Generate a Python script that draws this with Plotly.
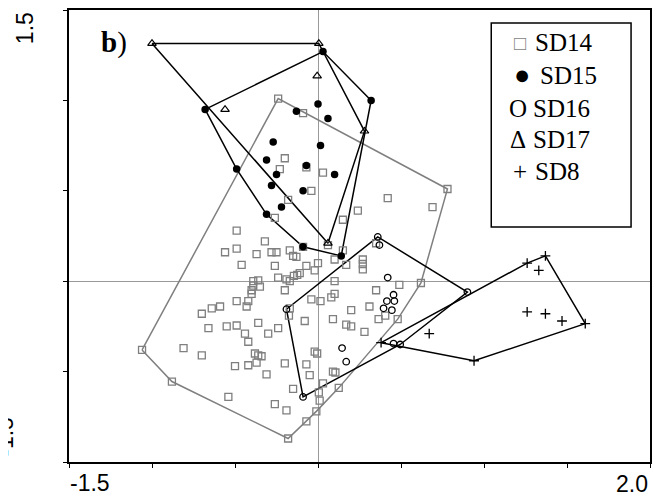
import plotly.graph_objects as go

# ---------------- data ----------------
sd14_x = [-0.24, -0.09, -0.20, -0.23, -0.07, 0.03, -0.04, -0.18, -0.26, 0.15,
          0.24, 0.42, 0.69, 0.78, -0.49, -0.56, -0.49, -0.32, -0.37, -0.28,
          -0.25, -0.17, -0.15, -0.13, -0.09, 0.06, 0.15, 0.27, 0.27, 0.27,
          0.35, -0.46, -0.26, -0.07, 0.00, -0.02, 0.10, 0.17, -0.11, -0.125,
          -0.145, -0.24, -0.19, -0.17, -0.39, -0.36, -0.39, -0.35, -0.40, -0.40,
          -0.20, 0.10, 0.49, 0.62, 0.35, -0.04, -0.49, -0.42, -0.43, -0.59,
          -0.64, -0.70, 0.015, 0.08, 0.10, 0.20, 0.31, -0.17, -0.175, -0.08,
          0.09, 0.17, 0.20, 0.28, 0.365, 0.405, 0.48, -0.66, -0.55, -0.49,
          -0.36, -0.44, -0.30, -0.24, -0.42, -0.81, -1.06, -0.70, -0.38, -0.36,
          -0.34, -0.37, -0.50, -0.42, -0.31, -0.20, -0.07, -0.05, -0.02, -0.005,
          0.09, 0.105, 0.03, 0.125, -0.15, -0.54, -0.88, -0.26, -0.19, 0.005,
          0.01, -0.01, -0.07, -0.18]
sd14_y = [1.01, 0.93, 0.68, 0.62, 0.63, 0.60, 0.50, 0.45, 0.35, 0.34,
          0.39, 0.46, 0.41, 0.51, 0.28, 0.16, 0.18, 0.22, 0.15, 0.16,
          0.16, 0.17, 0.14, 0.135, 0.19, 0.20, 0.17, 0.12, 0.095, 0.065,
          0.21, 0.09, 0.085, 0.085, 0.10, 0.06, 0.12, 0.09, 0.045, 0.035,
          0.03, 0.02, 0.01, 0.00, 0.00, 0.005, -0.025, -0.03, -0.05, -0.07,
          -0.05, 0.00, -0.02, -0.01, -0.05, -0.10, -0.11, -0.11, -0.14, -0.14,
          -0.15, -0.18, -0.11, -0.09, -0.07, -0.16, -0.14, -0.15, -0.19, -0.22,
          -0.21, -0.24, -0.25, -0.28, -0.21, -0.19, -0.21, -0.26, -0.25, -0.245,
          -0.23, -0.29, -0.29, -0.26, -0.335, -0.37, -0.38, -0.41, -0.40, -0.41,
          -0.415, -0.45, -0.47, -0.465, -0.515, -0.455, -0.46, -0.52, -0.39, -0.40,
          -0.50, -0.505, -0.565, -0.59, -0.595, -0.64, -0.555, -0.68, -0.715, -0.615,
          -0.66, -0.72, -0.775, -0.87]

sd15_x = [-0.68, 0.03, 0.32, 0.14, -0.09, -0.31, -0.49, -0.27, -0.31, -0.25,
          -0.28, -0.22, -0.09, -0.07, 0.015, 0.00, -0.13, 0.06, 0.10]
sd15_y = [0.95, 1.27, 1.00, 0.14, 0.19, 0.37, 0.62, 0.77, 0.67, 0.59,
          0.53, 0.41, 0.50, 0.64, 0.75, 0.98, 0.94, 0.90, 0.59]

sd16_x = [0.36, 0.37, 0.42, 0.455, 0.415, 0.46, 0.395, 0.445, 0.90, 0.455,
          0.495, 0.145, 0.17, -0.19, -0.09]
sd16_y = [0.245, 0.20, 0.02, -0.075, -0.11, -0.11, -0.15, -0.16, -0.06, -0.345,
          -0.35, -0.37, -0.445, -0.155, -0.64]

sd17_x = [-1.00, 0.005, -0.005, -0.56, 0.28, 0.06]
sd17_y = [1.315, 1.315, 1.135, 0.95, 0.83, 0.21]

sd8_x = [1.37, 1.26, 1.33, 1.26, 1.37, 1.47, 1.61, 0.94, 0.67, 0.38]
sd8_y = [0.14, 0.10, 0.06, -0.17, -0.18, -0.22, -0.235, -0.44, -0.29, -0.34]

legend_labels = ["SD14", "SD15", "SD16", "SD17", "SD8"]
legend_symbols = ["\u25a1", "\u25cf", "O", "\u0394", "+"]

x_range = [-1.5, 2.0]
y_range = [-1.0, 1.5]


def convex_hull(xs, ys):
    pts = sorted(set(zip(xs, ys)))

    def cross(o, a, b):
        return (a[0] - o[0]) * (b[1] - o[1]) - (a[1] - o[1]) * (b[0] - o[0])

    lower = []
    for p in pts:
        while len(lower) >= 2 and cross(lower[-2], lower[-1], p) <= 0:
            lower.pop()
        lower.append(p)
    upper = []
    for p in reversed(pts):
        while len(upper) >= 2 and cross(upper[-2], upper[-1], p) <= 0:
            upper.pop()
        upper.append(p)
    hull = lower[:-1] + upper[:-1]
    hull.append(hull[0])
    return [p[0] for p in hull], [p[1] for p in hull]


GRAY = "#7f7f7f"
fig = go.Figure()

series = [
    (sd14_x, sd14_y, GRAY, dict(symbol="square-open", size=7, color=GRAY, line=dict(width=1.3, color=GRAY))),
    (sd17_x, sd17_y, "black", dict(symbol="triangle-up-open", size=7.5, color="black", line=dict(width=1.2, color="black"))),
    (sd15_x, sd15_y, "black", dict(symbol="circle", size=7.5, color="black")),
    (sd16_x, sd16_y, "black", dict(symbol="circle-open", size=6.5, color="black", line=dict(width=1.3, color="black"))),
    (sd8_x, sd8_y, "black", dict(symbol="cross-thin-open", size=7, color="black", line=dict(width=1.3, color="black"))),
]

for xs, ys, lc, mk in series:
    hx, hy = convex_hull(xs, ys)
    fig.add_trace(go.Scatter(x=hx, y=hy, mode="lines",
                             line=dict(color=lc, width=1.5), showlegend=False, hoverinfo="skip"))
for xs, ys, lc, mk in series:
    fig.add_trace(go.Scatter(x=xs, y=ys, mode="markers", marker=mk, showlegend=False))

W, H = 654, 504
L, R, T, B = 69, 2, 10, 42
PW, PH = W - L - R, H - T - B


def px(x):
    return (x - L) / PW


def py(y):
    return (H - B - y) / PH


SANS = "Liberation Sans, Arial, sans-serif"
SERIF = "Liberation Serif, Times New Roman, serif"

ann = []
# axis end labels
ann.append(dict(text="1.5", x=px(25), y=py(28), textangle=-90, font=dict(family=SANS, size=23, color="black")))
ann.append(dict(text="-1.5", x=px(4.5), y=py(437), textangle=-90, font=dict(family=SANS, size=23, color="black")))
ann.append(dict(text=" ", x=px(0), y=py(437), xanchor="left", width=8, height=70, bgcolor="white",
                borderpad=0, borderwidth=0, font=dict(size=10)))
ann.append(dict(text="-1.5", x=px(90), y=py(483), font=dict(family=SANS, size=23, color="black")))
ann.append(dict(text="2.0", x=px(634), y=py(484), font=dict(family=SANS, size=23, color="black")))
# panel label
ann.append(dict(text="<b>b</b>)", x=px(114), y=py(43), font=dict(family=SERIF, size=29, color="black")))

# legend
sym_x = [521.5, 523.5, 520, 520, 521.5]
sym_size = [20, 27, 25, 25, 25]
sym_col = [GRAY, "black", "black", "black", "black"]
lab_x = [535, 540, 533, 533, 535]
row_y = [42.5, 75.3, 108.7, 139, 171]
for i in range(5):
    ann.append(dict(text=legend_symbols[i], x=px(sym_x[i]), y=py(row_y[i] + (1 if i == 0 else 0)),
                    font=dict(family=SERIF, size=sym_size[i], color=sym_col[i])))
    ann.append(dict(text=legend_labels[i], x=px(lab_x[i]), y=py(row_y[i]), xanchor="left",
                    font=dict(family=SERIF, size=25, color="black")))

for a in ann:
    a.setdefault("xref", "paper")
    a.setdefault("yref", "paper")
    a.setdefault("showarrow", False)
    a.setdefault("xanchor", "center")
    a.setdefault("yanchor", "middle")

shapes = [dict(type="rect", xref="paper", yref="paper",
               x0=px(492.7), x1=px(633), y0=py(227), y1=py(23),
               line=dict(color="black", width=1.5), fillcolor="rgba(0,0,0,0)", layer="above")]

axis_common = dict(showgrid=False, zeroline=True, zerolinecolor="#999999", zerolinewidth=1,
                   showline=True, linecolor="black", linewidth=1.5, mirror=True,
                   ticks="outside", ticklen=4, tickwidth=1.2, tickcolor="black",
                   showticklabels=False, dtick=0.5)

fig.update_layout(
    width=W, height=H,
    margin=dict(l=L, r=R, t=T, b=B),
    paper_bgcolor="white", plot_bgcolor="white",
    xaxis=dict(range=x_range, tick0=-1.5, **axis_common),
    yaxis=dict(range=y_range, tick0=-1.0, **axis_common),
    annotations=ann,
    shapes=shapes,
    showlegend=False,
)

fig.write_html("out.html", config={"displayModeBar": False},
               post_script="document.body.style.margin='0px';document.body.style.overflow='hidden';")
